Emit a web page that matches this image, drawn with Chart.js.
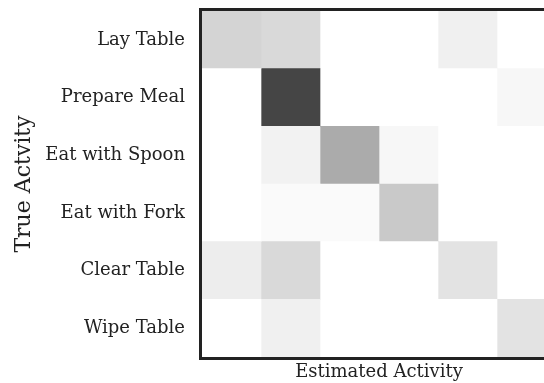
<!DOCTYPE html>
<html>
<head>
<meta charset="utf-8">
<script src="https://cdn.jsdelivr.net/npm/chart.js@4/dist/chart.umd.min.js"></script>
<style>
  html, body { margin: 0; padding: 0; background: #fff; overflow: hidden; }
  #wrap { position: relative; width: 570px; height: 383px; }
</style>
</head>
<body>
<div id="wrap"><canvas id="confusion"></canvas></div>
<script>
  // activity classes (rows = true, columns = estimated)
  const activities = ["Lay Table", "Prepare Meal", "Eat with Spoon", "Eat with Fork", "Clear Table", "Wipe Table"];

  // fraction of samples per cell, one array per true activity
  const layTable     = [0.17, 0.15, 0.00, 0.00, 0.06, 0.00];
  const prepareMeal  = [0.00, 0.73, 0.00, 0.00, 0.00, 0.03];
  const eatWithSpoon = [0.00, 0.05, 0.33, 0.03, 0.00, 0.00];
  const eatWithFork  = [0.00, 0.02, 0.02, 0.21, 0.00, 0.00];
  const clearTable   = [0.07, 0.15, 0.00, 0.00, 0.11, 0.00];
  const wipeTable    = [0.00, 0.06, 0.00, 0.00, 0.00, 0.11];

  const rows = [layTable, prepareMeal, eatWithSpoon, eatWithFork, clearTable, wipeTable];

  const gray = (v) => {
    const g = Math.round(255 * (1 - v));
    return `rgb(${g},${g},${g})`;
  };

  // one floating-bar dataset per estimated column, spanning [col, col + 1]
  const datasets = activities.map((name, col) => ({
    label: name,
    data: rows.map(() => [col, col + 1]),
    backgroundColor: rows.map((row) => gray(row[col])),
    borderWidth: 0,
    barPercentage: 1,
    categoryPercentage: 1,
    grouped: false,
  }));

  const framePlugin = {
    id: "frame",
    afterDraw(chart) {
      const { ctx, chartArea: a } = chart;
      ctx.save();
      ctx.strokeStyle = "#222";
      ctx.lineWidth = 3;
      ctx.strokeRect(a.left - 1.5, a.top - 1.5, a.right - a.left + 3, a.bottom - a.top + 3);
      ctx.restore();
    },
  };

  const serif = "'DejaVu Serif', serif";

  new Chart(document.getElementById("confusion"), {
    type: "bar",
    data: { labels: activities, datasets },
    options: {
      indexAxis: "y",
      responsive: true,
      maintainAspectRatio: false,
      animation: false,
      layout: { padding: { top: 11, right: 14, left: 0, bottom: 0 } },
      plugins: { legend: { display: false }, tooltip: { enabled: false } },
      scales: {
        x: {
          type: "linear",
          min: 0,
          max: activities.length,
          grid: { display: false, drawTicks: false },
          border: { display: false },
          ticks: { display: false },
          title: {
            display: true,
            text: "Estimated Activity",
            color: "#222",
            font: { family: serif, size: 18 },
            padding: { top: 6, bottom: 0 },
          },
          afterFit(scale) { scale.height = 26; },
        },
        y: {
          grid: { display: false, drawTicks: false },
          border: { display: false },
          ticks: {
            color: "#222",
            padding: 17,
            font: { family: serif, size: 18 },
          },
          title: {
            display: true,
            text: "True Actvity",
            color: "#222",
            font: { family: serif, size: 22 },
            padding: { top: 11, bottom: 0 },
          },
          afterFit(scale) {
            scale.width = 202;
            scale.paddingTop = 0;
            scale.paddingBottom = 0;
          },
        },
      },
    },
    plugins: [framePlugin],
  });
</script>
</body>
</html>
